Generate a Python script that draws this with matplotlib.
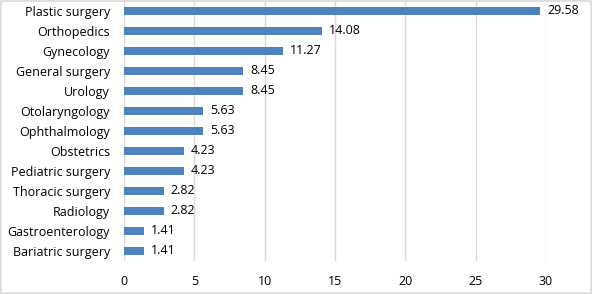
import matplotlib.pyplot as plt
from matplotlib.patches import Rectangle

categories = ['Plastic surgery', 'Orthopedics', 'Gynecology', 'General surgery', 'Urology',
              'Otolaryngology', 'Ophthalmology', 'Obstetrics', 'Pediatric surgery',
              'Thoracic surgery', 'Radiology', 'Gastroenterology', 'Bariatric surgery']
values = [29.58, 14.08, 11.27, 8.45, 8.45, 5.63, 5.63, 4.23, 4.23, 2.82, 2.82, 1.41, 1.41]
xticks = [0, 5, 10, 15, 20, 25, 30]

plt.rcParams['font.family'] = ['Open Sans', 'DejaVu Sans']

fig = plt.figure(figsize=(5.92, 2.94), dpi=100)
ax = fig.add_axes([124/592, 33/294, 422/592, 260/294])

pos = list(range(len(categories)))
ax.barh(pos, values, height=0.42, color='#4F81BD', zorder=3)
for p, v in zip(pos, values):
    ax.text(v + 0.5, p, f'{v:.2f}', va='center', ha='left', fontsize=9, color='#000000')

ax.set_ylim(len(categories) - 0.5, -0.5)
ax.set_yticks(pos)
ax.set_yticklabels(categories, fontsize=9)
ax.set_xlim(0, 30)
ax.set_xticks(xticks)
ax.set_xticklabels([str(t) for t in xticks], fontsize=9)
ax.grid(axis='x', color='#D9D9D9', linewidth=1, zorder=0)
for s in ax.spines.values():
    s.set_visible(False)
ax.tick_params(length=0)
ax.tick_params(axis='y', pad=10)
ax.tick_params(axis='x', pad=10)

fig.patches.append(Rectangle((0.002, 0.003), 0.996, 0.994, transform=fig.transFigure,
                             fill=False, edgecolor='#D9D9D9', linewidth=1.2))

fig.savefig('out.png', dpi=100)
